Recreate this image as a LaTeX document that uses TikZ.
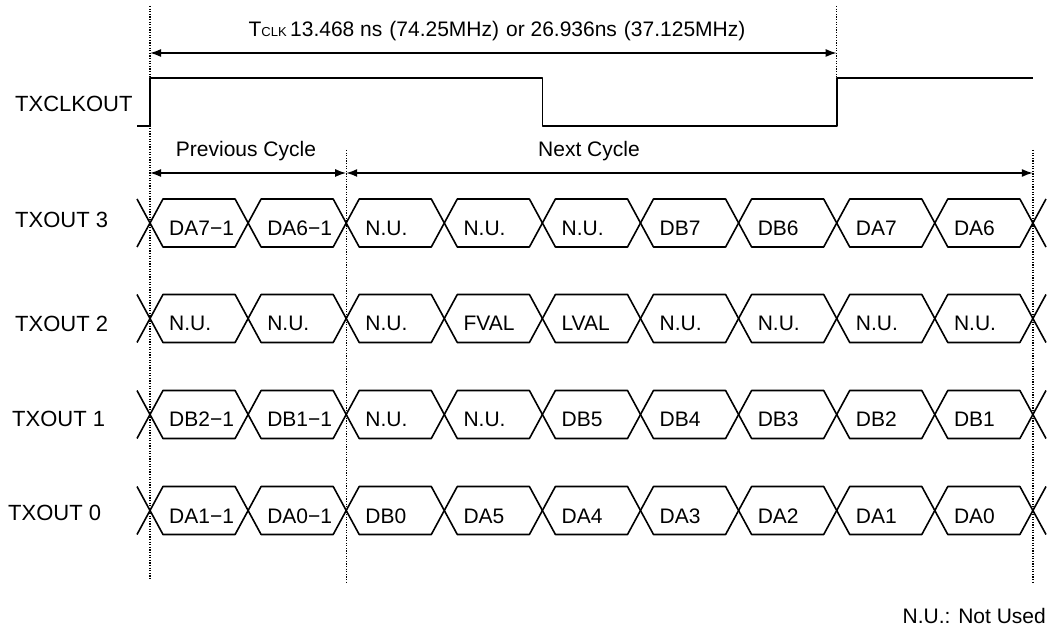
\documentclass[tikz,border=0pt]{standalone}
\usepackage{fontspec}
\setmainfont{Liberation Sans}
\usetikzlibrary{arrows.meta}
\begin{document}
\begin{tikzpicture}[x=1pt,y=-1pt,
  sig/.style={line width=1.6pt, line join=round},
  guide/.style={line width=1.3pt, dash pattern=on 1.3pt off 1.3pt},
  dim/.style={line width=1.6pt, {Latex[length=11pt,width=8pt]}-{Latex[length=11pt,width=8pt]}},
  lbl/.style={anchor=base west, inner sep=0pt, font=\fontsize{22}{24}\selectfont},
  cell/.style={anchor=base west, inner sep=0pt, font=\fontsize{21}{24}\selectfont},
  txt/.style={anchor=base, inner sep=0pt, font=\fontsize{21}{24}\selectfont},
]
\useasboundingbox (0,0) rectangle (1053,628);

% guide coordinates
\coordinate (g0t) at (150,6);
\coordinate (g0b) at (150,580);
\coordinate (g2t) at (346.2,150);
\coordinate (g2b) at (346.2,583);
\coordinate (g7t) at (836.7,6);
\coordinate (g7b) at (836.7,78);
\coordinate (g9t) at (1032.9,150);
\coordinate (g9b) at (1032.9,583);
\draw[guide] (g0t) -- (g0b);
\draw[guide] (g2t) -- (g2b);
\draw[guide] (g7t) -- (g7b);
\draw[guide] (g9t) -- (g9b);

% period arrow
\coordinate (pa) at (150,53);
\coordinate (pb) at (836.7,53);
\draw[dim] (pa) -- (pb);
\node[txt] (tclk) at (497,37) {T{\fontsize{13}{13}\selectfont CLK}\,13.468 ns\,\,(74.25MHz)\,\,or 26.936ns\,\,(37.125MHz)};

% clock
\node[lbl] (clklbl) at (15,112) {TXCLKOUT};
\draw[sig] (137,126) -- (150,126) -- (150,78) -- (542.4,78) -- (542.4,126) -- (836.7,126) -- (836.7,78) -- (1032.9,78);

% cycle arrows
\coordinate (c0) at (150,173);
\coordinate (c2) at (346.2,173);
\coordinate (c9) at (1032.9,173);
\draw[dim] (c0) -- (c2);
\draw[dim] (c2) -- (c9);
\node[txt] (prev) at (246,157) {Previous Cycle};
\node[txt] (next) at (589,157) {Next Cycle};

% row labels
\node[lbl] (l3) at (15,228) {TXOUT 3};
\node[lbl] (l2) at (15,332) {TXOUT 2};
\node[lbl] (l1) at (12,427) {TXOUT 1};
\node[lbl] (l0) at (8,520) {TXOUT 0};

% data rows
\foreach \r/\yc/\lst in {
  3/223/{DA7−1,DA6−1,N.U.,N.U.,N.U.,DB7,DB6,DA7,DA6},
  2/318.5/{N.U.,N.U.,N.U.,FVAL,LVAL,N.U.,N.U.,N.U.,N.U.},
  1/414.5/{DB2−1,DB1−1,N.U.,N.U.,DB5,DB4,DB3,DB2,DB1},
  0/510.5/{DA1−1,DA0−1,DB0,DA5,DA4,DA3,DA2,DA1,DA0}} {
  \draw[sig] (137,\yc-24) -- (150,\yc) -- (137,\yc+24);
  \draw[sig] (1046,\yc-24) -- (1032.9,\yc) -- (1046,\yc+24);
  \foreach \t [count=\k from 0] in \lst {
    \pgfmathsetmacro{\xa}{150+98.1*\k}
    \pgfmathsetmacro{\xb}{\xa+98.1}
    \draw[sig] (\xa,\yc) -- (\xa+13,\yc-24) -- (\xb-13,\yc-24) -- (\xb,\yc)
      -- (\xb-13,\yc+24) -- (\xa+13,\yc+24) -- cycle;
    \node[cell] (c\r-\k) at (\xa+19,\yc+12.5) {\t};
  }
}

\node[anchor=base east, inner sep=0pt, font=\fontsize{21}{24}\selectfont] (note) at (1046,623) {N.U.: Not Used};
\end{tikzpicture}
\end{document}
